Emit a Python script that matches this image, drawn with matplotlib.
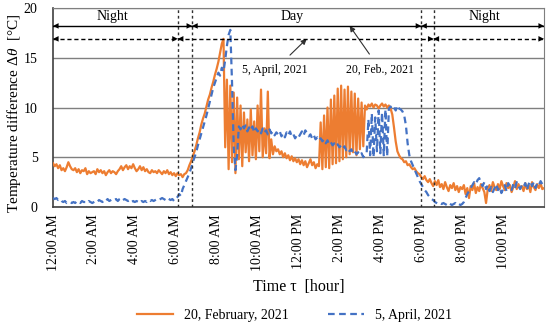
import numpy as np
import matplotlib
matplotlib.use('Agg')
import matplotlib.pyplot as plt

plt.rcParams['font.family'] = ['Liberation Serif', 'DejaVu Serif']
plt.rcParams['mathtext.fontset'] = 'custom'
plt.rcParams['mathtext.it'] = 'Liberation Serif:italic'
plt.rcParams['mathtext.rm'] = 'Liberation Serif'

# time axis: 5 minute samples over one day (hours)
step_min = 5
n_samples = 289

# 20 February 2021 (orange, solid), 12 values per hour
feb = [
    4.4, 4.1, 4.3, 3.9, 4.2, 3.7, 3.9, 3.6, 4.0, 4.5, 4.1, 3.8,
    3.7, 3.9, 3.5, 3.8, 3.4, 3.7, 3.6, 3.9, 3.3, 3.6, 3.4, 3.5,
    3.6, 3.3, 3.8, 3.5, 3.7, 3.4, 3.6, 3.2, 3.5, 3.7, 3.4, 3.6,
    3.5, 3.3, 3.6, 3.8, 4.1, 3.7, 4.0, 4.2, 3.8, 4.1, 3.9, 4.3,
    3.9, 3.6, 3.8, 4.1, 3.7, 4.0, 3.6, 3.8, 3.5, 3.4, 3.7, 3.5,
    3.6, 3.4, 3.7, 3.5, 3.3, 3.6, 3.4, 3.7, 3.3, 3.5, 3.2, 3.4,
    3.1, 3.4, 3.2, 3.3, 3.0, 3.3, 3.4, 3.7, 4.2, 4.6, 5.1, 5.6,
    6.2, 6.9, 7.5, 8.3, 8.9, 9.4, 10.1, 10.8, 11.3, 12.0, 12.6, 13.3,
    13.9, 14.6, 15.5, 16.4, 16.9, 6.0, 12.8, 3.8, 12.2, 4.5, 11.5, 3.4,
    11.0, 4.8, 10.2, 4.1, 9.5, 5.5, 8.8, 4.6, 9.8, 5.2, 8.6, 4.8,
    10.2, 5.6, 11.8, 5.0, 7.9, 5.4, 11.6, 4.9, 6.8, 5.3, 6.1, 5.6,
    5.8, 5.3, 5.6, 5.0, 5.4, 4.9, 5.2, 4.7, 5.1, 4.6, 4.9, 4.5,
    4.8, 4.3, 4.7, 4.2, 4.6, 4.0, 4.4, 4.8, 4.2, 4.5, 3.9, 4.3,
    4.1, 8.5, 3.8, 9.2, 4.0, 10.0, 3.9, 10.8, 4.3, 11.2, 4.4, 11.9,
    4.6, 12.2, 4.8, 11.8, 5.0, 12.1, 5.3, 11.6, 5.5, 11.4, 5.2, 10.9,
    5.8, 10.5, 6.1, 10.2, 9.8, 10.3, 10.1, 10.4, 10.0, 10.3, 10.2, 9.9,
    10.2, 10.4, 10.1, 10.3, 10.0, 10.2, 9.9, 9.3, 8.0, 6.6, 5.6, 5.2,
    4.9, 4.8, 4.5, 4.6, 4.2, 4.3, 4.0, 3.8, 3.9, 3.6, 3.4, 3.3,
    3.0, 2.8, 3.1, 2.7, 2.5, 2.8, 2.4, 2.1, 2.6, 2.2, 2.7, 2.0,
    2.3, 1.8, 2.5, 2.0, 1.6, 2.2, 1.9, 2.4, 1.7, 2.1, 1.5, 2.0,
    1.8, 2.2, 1.3, 1.9, 0.9, 2.1, 1.7, 2.4, 1.4, 2.0, 1.6, 2.3,
    1.9, 1.5, 0.4, 1.8, 2.2, 1.6, 2.5, 2.0, 1.7, 2.3, 1.8, 2.6,
    2.1, 1.7, 2.4, 1.9, 2.2, 1.5, 2.0, 2.6, 1.8, 2.3, 1.9, 2.1,
    1.6, 2.4, 1.8, 2.2, 1.5, 2.5, 2.0, 1.7, 2.3, 1.9, 2.4, 1.8,
    1.9,
]

# 5 April 2021 (blue, dashed)
apr = [
    0.9, 0.8, 0.9, 0.7, 0.8, 0.6, 0.5, 0.6, 0.4, 0.5, 0.5, 0.4,
    0.5, 0.4, 0.6, 0.5, 0.4, 0.6, 0.5, 0.5, 0.4, 0.6, 0.5, 0.4,
    0.5, 0.6, 0.5, 0.7, 0.6, 0.5, 0.7, 0.6, 0.8, 0.6, 0.7, 0.8,
    0.7, 0.8, 0.6, 0.8, 0.9, 0.7, 0.8, 0.7, 0.6, 0.7, 0.5, 0.6,
    0.5, 0.6, 0.5, 0.4, 0.6, 0.5, 0.6, 0.5, 0.7, 0.6, 0.7, 0.6,
    0.7, 0.8, 0.7, 0.8, 0.9, 0.8, 0.7, 0.9, 0.8, 0.7, 0.8, 0.6,
    0.8, 1.0, 1.3, 1.1, 1.8, 2.2, 2.6, 3.0, 3.4, 3.9, 4.5, 5.0,
    5.5, 6.2, 6.8, 7.4, 8.0, 8.6, 9.2, 9.9, 10.6, 11.3, 12.0, 12.5,
    13.0, 13.5, 13.2, 14.0, 13.6, 14.8, 16.2, 17.3, 17.8, 12.5, 6.0, 3.7,
    5.2, 8.1, 7.8, 8.3, 7.9, 8.2, 7.6, 8.0, 7.7, 8.1, 7.5, 7.9,
    7.6, 7.8, 7.4, 7.9, 7.5, 7.7, 7.3, 7.8, 7.4, 7.6, 7.2, 7.5,
    7.3, 7.6, 7.1, 7.4, 7.0, 7.5, 7.2, 7.6, 7.1, 7.3, 6.9, 7.2,
    7.0, 7.3, 7.6, 7.2, 7.7, 7.4, 7.1, 7.3, 6.9, 7.2, 6.8, 7.0,
    6.7, 6.9, 6.6, 6.8, 6.4, 6.7, 6.3, 6.5, 6.2, 6.4, 6.1, 6.3,
    6.0, 6.2, 5.9, 6.1, 5.7, 5.9, 5.6, 5.8, 5.4, 5.6, 5.3, 5.5,
    5.2, 5.4, 5.0, 5.3, 5.5, 8.8, 5.2, 9.4, 5.0, 9.0, 5.6, 9.7,
    5.4, 9.5, 5.2, 9.8, 5.1, 9.9, 10.1, 9.8, 10.0, 9.7, 10.2, 9.9,
    9.8, 9.6, 9.2, 8.2, 6.4, 5.2, 4.6, 4.2, 3.8, 3.4, 3.0, 2.6,
    2.3, 2.0, 1.7, 1.5, 1.2, 1.0, 0.8, 0.7, 0.5, 0.4, 0.3, 0.4,
    0.3, 0.4, 0.3, 0.2, 0.4, 0.3, 0.2, 0.3, 0.4, 0.2, 0.3, 0.2,
    0.3, 0.5, 0.9, 1.3, 1.6, 1.9, 2.2, 2.5, 2.3, 2.7, 2.9, 2.4,
    2.1, 2.5, 1.8, 2.2, 1.6, 2.0, 1.5, 1.9, 2.3, 1.7, 2.0, 1.4,
    1.8, 2.2, 1.6, 2.4, 2.0, 1.7, 2.3, 1.9, 2.5, 2.1, 1.8, 2.2,
    2.0, 2.4, 1.7, 2.3, 2.6, 2.1, 2.5, 1.9, 2.4, 2.2, 2.6, 2.3,
    2.4,
]

tick_hours = [0, 2, 4, 6, 8, 10, 12, 14, 16, 18, 20, 22]
tick_labels = ['12:00 AM', '2:00 AM', '4:00 AM', '6:00 AM', '8:00 AM', '10:00 AM',
               '12:00 PM', '2:00 PM', '4:00 PM', '6:00 PM', '8:00 PM', '10:00 PM']

# sunrise / sunset markers (hours)
feb_day = (6.8, 18.0)
apr_day = (6.1, 18.6)

hours = np.arange(n_samples) * step_min / 60.0

orange = '#ED7D31'
blue = '#4472C4'

fig = plt.figure(figsize=(5.5, 3.27), dpi=100)
ax = fig.add_axes([0.0964, 0.367, 0.8927, 0.6085])

ax.plot(hours, feb, color=orange, lw=1.6, label='20, February, 2021', zorder=3)
ax.plot(hours, apr, color=blue, lw=1.6, ls=(0, (3, 2)), label='5, April, 2021', zorder=4)

ax.set_xlim(0, 24)
ax.set_ylim(0, 20)
ax.set_yticks([0, 5, 10, 15, 20])
ax.set_xticks(tick_hours)
ax.set_xticklabels(tick_labels, rotation=90)
ax.tick_params(length=0, labelsize=10, pad=5)
ax.tick_params(axis='y', pad=11)
ax.yaxis.grid(True, color='#7f7f7f', lw=1)
ax.set_axisbelow(True)
for s in ['top', 'right']:
    ax.spines[s].set_color('#7f7f7f')
for s in ['left', 'bottom']:
    ax.spines[s].set_color('#404040')
    ax.spines[s].set_linewidth(1.2)

ax.set_ylabel(r'Temperature difference $\Delta\theta$  [°C]', fontsize=11, va='center')
ax.yaxis.set_label_coords(-0.08, 0.47)
ax.set_xlabel('Time τ  [hour]', fontsize=11.5, labelpad=6)

# sunrise / sunset vertical lines
for x in [apr_day[0], feb_day[0], feb_day[1], apr_day[1]]:
    ax.axvline(x, color='#303030', lw=1, ls=(0, (2, 2)), zorder=5)


def period_arrow(x0, x1, y, style):
    ax.plot([x0, x1], [y, y], color='k', lw=1, ls=style, zorder=6)
    ax.annotate('', xy=(x1, y), xytext=(x0, y),
                arrowprops=dict(arrowstyle='<|-|>', color='k', lw=0.01,
                                mutation_scale=10, shrinkA=0, shrinkB=0), zorder=6)


y_feb, y_apr = 18.2, 16.9
period_arrow(0, feb_day[0], y_feb, '-')
period_arrow(feb_day[0], feb_day[1], y_feb, '-')
period_arrow(feb_day[1], 24, y_feb, '-')
period_arrow(0, apr_day[0], y_apr, (0, (3, 2)))
period_arrow(apr_day[0], apr_day[1], y_apr, (0, (3, 2)))
period_arrow(apr_day[1], 24, y_apr, (0, (3, 2)))

ax.text(2.9, 19.1, 'Night', ha='center', va='center', fontsize=10)
ax.text(11.7, 19.1, 'Day', ha='center', va='center', fontsize=10)
ax.text(21.1, 19.1, 'Night', ha='center', va='center', fontsize=10)

ax.annotate('5, April, 2021', xy=(12.4, y_apr), xytext=(10.85, 13.8),
            ha='center', va='center', fontsize=8.5,
            arrowprops=dict(arrowstyle='-|>', color='#303030', lw=0.8,
                            mutation_scale=8, shrinkA=6, shrinkB=0))
ax.annotate('20, Feb., 2021', xy=(14.5, y_feb), xytext=(16.0, 13.8),
            ha='center', va='center', fontsize=8.5,
            arrowprops=dict(arrowstyle='-|>', color='#303030', lw=0.8,
                            mutation_scale=8, shrinkA=6, shrinkB=0))

fig.legend(loc='center', bbox_to_anchor=(0.535, 0.036), ncol=2, frameon=False,
           fontsize=10, handlelength=2.6, columnspacing=2.8)

fig.savefig('out.png', dpi=100)
